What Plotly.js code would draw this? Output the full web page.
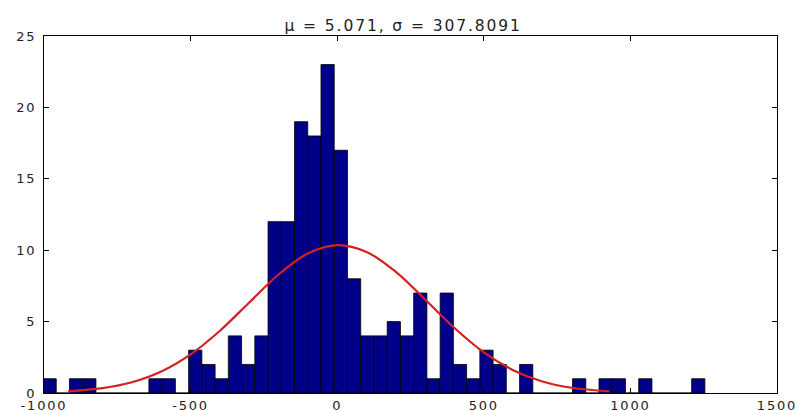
<!DOCTYPE html>
<html>
<head>
<meta charset="utf-8">
<script src="https://cdn.plot.ly/plotly-3.0.1.min.js"></script>
<style>
html,body{margin:0;padding:0;background:#fff;}
#chart{width:798px;height:410px;}
#chart .gtitle{letter-spacing:1.9px;}
#chart .xtick text,#chart .ytick text{letter-spacing:1.8px;}
</style>
</head>
<body>
<div id="chart"></div>
<script>
// Histogram bins (centers, width) and counts
const binCenters = [-980.8,-935.7,-890.5,-845.4,-800.2,-755.1,-709.9,-664.8,-619.6,-574.5,
  -529.3,-484.2,-439.0,-393.9,-348.7,-303.6,-258.4,-213.3,-168.1,-123.0,
  -77.8,-32.7,12.5,57.6,102.8,147.9,193.1,238.2,283.4,328.5,
  373.7,418.8,464.0,509.1,554.3,599.4,644.6,689.7,734.9,780.0,
  825.2,870.3,915.5,960.6,1005.8,1050.9,1096.1,1141.2,1186.4,1231.5];
const binWidth = 45.15;
const counts = [1,0,1,1,0,0,0,0,1,1,
  0,3,2,1,4,2,4,12,12,19,
  18,23,17,8,4,4,5,4,7,1,
  7,2,1,3,2,0,2,0,0,0,
  1,0,1,1,0,1,0,0,0,1];

// Fitted normal curve
const fitX = [-918,-800,-700,-600,-500,-400,-300,-200,-100,0,100,200,300,400,500,600,700,800,928];
const fitY = [0.12,0.34,0.75,1.50,2.70,4.36,6.34,8.30,9.77,10.36,9.88,8.48,6.55,4.55,2.84,1.60,0.81,0.37,0.12];

const xTicks = [-1000,-500,0,500,1000,1500];
const yTicks = [0,5,10,15,20,25];
const titleText = 'μ = 5.071, σ = 307.8091';

const tickFont = {family: 'DejaVu Sans, Arial, sans-serif', size: 13, color: '#222'};

const traces = [
  {
    type: 'bar',
    x: binCenters,
    y: counts,
    width: binCenters.map(() => binWidth),
    marker: {color: '#000088', line: {color: '#000000', width: 0.8}},
    hoverinfo: 'x+y'
  },
  {
    type: 'scatter',
    mode: 'lines',
    x: fitX,
    y: fitY,
    line: {color: '#d42020', width: 2.2, shape: 'spline'}
  }
];

const axisCommon = {
  showline: true, linecolor: '#000', linewidth: 1, mirror: 'ticks',
  ticks: 'inside', ticklen: 5, tickcolor: '#000', tickwidth: 1,
  showgrid: false, zeroline: false, tickfont: tickFont
};

const layout = {
  width: 798, height: 410,
  margin: {l: 44, r: 21, t: 36, b: 17, pad: 0},
  paper_bgcolor: '#fff', plot_bgcolor: '#fff',
  showlegend: false,
  bargap: 0,
  title: {text: titleText, font: {family: 'DejaVu Sans, Arial, sans-serif', size: 15.5, color: '#222'},
          x: 0.49, xref: 'paper', y: 1, yref: 'paper', yanchor: 'bottom', pad: {b: 5}},
  xaxis: Object.assign({}, axisCommon, {range: [-1000, 1500], tickvals: xTicks, ticktext: xTicks.map(String)}),
  yaxis: Object.assign({}, axisCommon, {range: [0, 25], tickvals: yTicks, ticktext: yTicks.map(String), ticklabelstandoff: 4})
};

Plotly.newPlot('chart', traces, layout, {displayModeBar: false, staticPlot: true});
</script>
</body>
</html>
